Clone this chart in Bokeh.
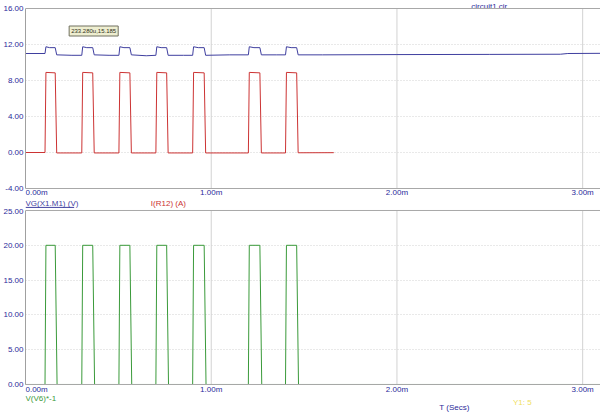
from bokeh.plotting import figure
from bokeh.layouts import column
from bokeh.models import Range1d, FixedTicker, PrintfTickFormatter, Span
from bokeh.core.properties import value
from bokeh.embed import file_html
from bokeh.resources import INLINE

# ---- data (time in ms) ----
x_ticks = [0, 1, 2, 3]
x_tick_labels = ["0.00m", "1.00m", "2.00m", "3.00m"]
top_y_ticks = [-4, 0, 4, 8, 12, 16]
bot_y_ticks = [0, 5, 10, 15, 20, 25]

t_vg = [0.0, 0.105, 0.110, 0.130, 0.160, 0.168, 0.25, 0.303, 0.308, 0.33, 0.362, 0.370,
        0.45, 0.503, 0.508, 0.53, 0.562, 0.570, 0.65, 0.702, 0.707, 0.73, 0.760, 0.768,
        0.85, 0.900, 0.905, 0.93, 0.962, 0.970, 1.10, 1.200, 1.205, 1.23, 1.262, 1.270,
        1.35, 1.400, 1.405, 1.43, 1.460, 1.468, 1.60, 2.00, 2.50, 2.88, 2.92, 3.10]
vg = [11.0, 11.0, 11.75, 11.65, 11.65, 10.85, 10.80, 10.80, 11.75, 11.65, 11.65, 10.85,
      10.80, 10.80, 11.75, 11.65, 11.65, 10.85, 10.75, 10.80, 11.75, 11.65, 11.65, 10.80,
      10.80, 10.80, 11.75, 11.65, 11.65, 10.80, 10.85, 10.85, 11.75, 11.65, 11.65, 10.85,
      10.85, 10.85, 11.75, 11.65, 11.65, 10.85, 10.85, 10.88, 10.90, 10.92, 11.00, 11.02]

t_ir = [0.0, 0.105, 0.110, 0.160, 0.168, 0.303, 0.308, 0.362, 0.370, 0.503, 0.508, 0.562,
        0.570, 0.702, 0.707, 0.760, 0.768, 0.900, 0.905, 0.962, 0.970, 1.200, 1.205, 1.262,
        1.270, 1.400, 1.405, 1.460, 1.468, 1.66]
ir = [0.0, 0.0, 8.9, 8.85, -0.05, -0.05, 8.9, 8.85, -0.05, -0.05, 8.9, 8.85,
      -0.05, -0.05, 8.9, 8.85, -0.05, -0.05, 8.9, 8.85, -0.05, -0.05, 8.9, 8.85,
      -0.05, -0.05, 8.9, 8.85, -0.03, -0.02]

t_v6 = [0.0, 0.105, 0.110, 0.160, 0.170, 0.303, 0.308, 0.362, 0.372, 0.503, 0.508, 0.562,
        0.572, 0.702, 0.707, 0.760, 0.770, 0.900, 0.905, 0.962, 0.972, 1.200, 1.205, 1.262,
        1.272, 1.400, 1.405, 1.460, 1.470, 3.10]
v6 = [0, 0, 20, 20, 0, 0, 20, 20, 0, 0, 20, 20,
      0, 0, 20, 20, 0, 0, 20, 20, 0, 0, 20, 20,
      0, 0, 20, 20, 0, 0]

BLUE = "#3f3f9f"
RED = "#cc3333"
GREEN = "#3a9a3a"
NAVY = "#2a2a9a"
GRID = "#d2d2d2"
FONT = "Liberation Sans"
FS = "8px"
X_MAX = 3.096


def style(p, yticks, ylo, yhi, tick_dy):
    p.outline_line_color = None
    p.xaxis.visible = False
    p.xgrid.visible = False
    p.yaxis.ticker = FixedTicker(ticks=yticks)
    p.yaxis.formatter = PrintfTickFormatter(format="%.2f")
    p.yaxis.bounds = (ylo, yhi)
    p.yaxis.axis_line_color = "#a0a0a0"
    p.yaxis.major_tick_line_color = None
    p.yaxis.major_tick_out = 0
    p.yaxis.major_tick_in = 0
    p.yaxis.minor_tick_line_color = None
    p.yaxis.major_label_standoff = 2
    p.yaxis.major_label_text_font_size = FS
    p.yaxis.major_label_text_color = NAVY
    p.yaxis.major_label_text_font = FONT
    p.ygrid.grid_line_color = GRID
    p.ygrid.grid_line_dash = "1 2"
    # vertical grid lines limited to the plotting band
    p.segment(x0=x_ticks[1:], y0=[ylo] * 3, x1=x_ticks[1:], y1=[yhi] * 3,
              line_color=GRID, line_width=1)
    p.add_layout(Span(location=yhi, dimension="width", line_color="#a8a8a8", line_width=1))
    p.add_layout(Span(location=ylo, dimension="width", line_color="#a8a8a8", line_width=1))
    # x tick labels under the band
    p.text(x=x_ticks[:1], y=[ylo], text=x_tick_labels[:1], text_align="left",
           text_baseline="middle", x_offset=0, y_offset=tick_dy, text_font_size=FS,
           text_color=NAVY, text_font=value(FONT))
    p.text(x=x_ticks[1:], y=[ylo] * 3, text=x_tick_labels[1:], text_align="center",
           text_baseline="middle", y_offset=tick_dy, text_font_size=FS,
           text_color=NAVY, text_font=value(FONT))


# top panel: 16 at page y=8, -4 at page y=188 (9 px/unit)
p1 = figure(width=600, height=208, x_range=Range1d(0, X_MAX), y_range=Range1d(-6.222, 16.889),
            output_backend="svg", toolbar_location=None,
            min_border_left=22, min_border_right=0, min_border_top=0, min_border_bottom=0)
style(p1, top_y_ticks, -4, 16, 4)
p1.line(t_vg, vg, line_color=BLUE, line_width=1)
p1.line(t_ir, ir, line_color=RED, line_width=1)
p1.text(x=[2.40], y=[16], text=["circuit1.cir"], text_align="left", text_baseline="alphabetic",
        y_offset=-2, text_font_size=FS, text_color=NAVY, text_font=value(FONT))
p1.text(x=[0.0], y=[-4], text=["VG(X1.M1) (V)"], text_align="left", text_baseline="middle",
        x_offset=0, y_offset=15, text_font_size=FS, text_color=BLUE, text_font=value(FONT))
# underline of the VG label
p1.segment(x0=[0.0], y0=[-6.1], x1=[0.262], y1=[-6.1], line_color=BLUE, line_width=1)
p1.text(x=[0.675], y=[-4], text=["I(R12) (A)"], text_align="left", text_baseline="middle",
        y_offset=15, text_font_size=FS, text_color=RED, text_font=value(FONT))
p1.text(x=[0.235], y=[13.5], text=["233.280u,15.185"], text_align="left",
        text_baseline="middle", text_font_size="6px", text_color="#303020",
        text_font=value(FONT), background_fill_color="#eeeed0",
        border_line_color="#707060", padding=2)

# bottom panel: 25 at page y=210, 0 at page y=384 (6.96 px/unit)
p2 = figure(width=600, height=204, x_range=p1.x_range, y_range=Range1d(-4.023, 25.287),
            output_backend="svg", toolbar_location=None,
            min_border_left=22, min_border_right=0, min_border_top=0, min_border_bottom=0)
style(p2, bot_y_ticks, 0, 25, 5)
p2.line(t_v6, v6, line_color=GREEN, line_width=1)
p2.text(x=[0.0], y=[0], text=["V(V6)*-1"], text_align="left", text_baseline="middle",
        x_offset=0, y_offset=14, text_font_size=FS, text_color=GREEN, text_font=value(FONT))
p2.text(x=[2.228], y=[0], text=["T (Secs)"], text_align="left", text_baseline="middle",
        y_offset=23, text_font_size=FS, text_color=NAVY, text_font=value(FONT))
p2.text(x=[2.625], y=[0], text=["Y1: 5"], text_align="left", text_baseline="middle",
        y_offset=18, text_font_size=FS, text_color="#f0e060", text_font=value(FONT))

layout = column(p1, p2, spacing=0)
open("out.html", "w").write(file_html(layout, INLINE))
